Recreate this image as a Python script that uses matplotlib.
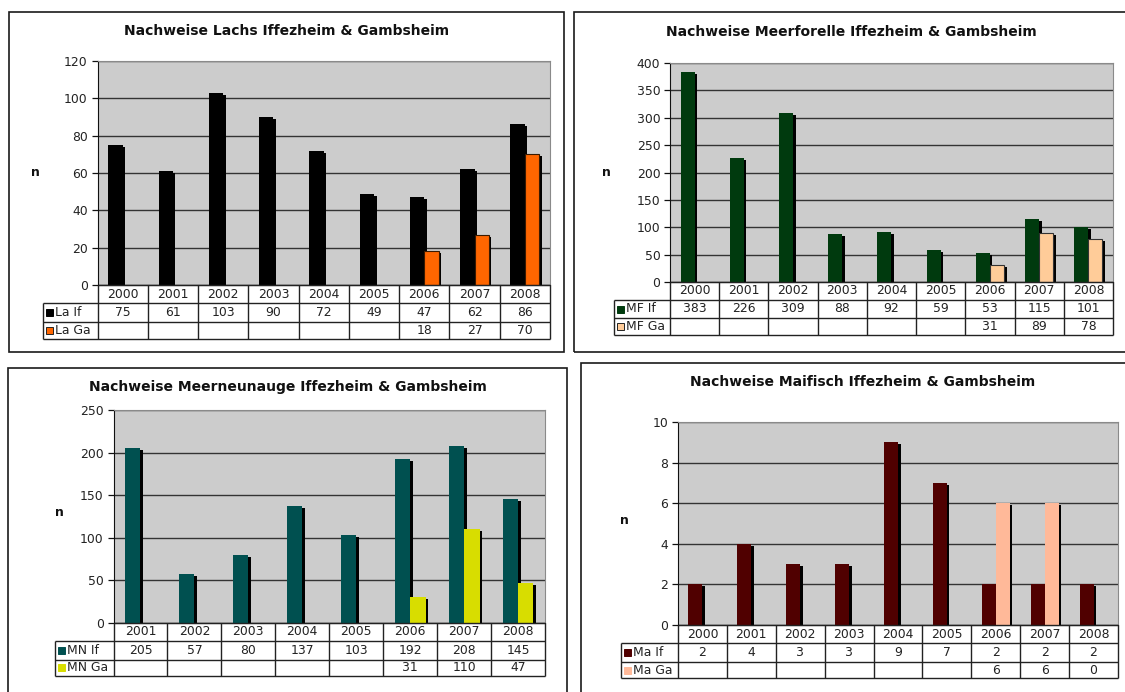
import matplotlib
matplotlib.use('Agg')
import matplotlib.pyplot as plt
import matplotlib.transforms as mtransforms
from matplotlib.patches import Rectangle
import numpy as np

# Daten: Nachweise an den Fischpässen Iffezheim (If) und Gambsheim (Ga)
years_la = ['2000', '2001', '2002', '2003', '2004', '2005', '2006', '2007', '2008']
la_if = [75, 61, 103, 90, 72, 49, 47, 62, 86]
la_ga = [None, None, None, None, None, None, 18, 27, 70]

years_mf = ['2000', '2001', '2002', '2003', '2004', '2005', '2006', '2007', '2008']
mf_if = [383, 226, 309, 88, 92, 59, 53, 115, 101]
mf_ga = [None, None, None, None, None, None, 31, 89, 78]

years_mn = ['2001', '2002', '2003', '2004', '2005', '2006', '2007', '2008']
mn_if = [205, 57, 80, 137, 103, 192, 208, 145]
mn_ga = [None, None, None, None, None, 31, 110, 47]

years_ma = ['2000', '2001', '2002', '2003', '2004', '2005', '2006', '2007', '2008']
ma_if = [2, 4, 3, 3, 9, 7, 2, 2, 2]
ma_ga = [None, None, None, None, None, None, 6, 6, 0]

W, H = 1125, 692
fig = plt.figure(figsize=(W / 100, H / 100), dpi=100)
plt.rcParams['font.family'] = ['DejaVu Sans']

TXT = '#222222'
BW = 0.2857  # Balkenbreite (Abstand 150 %)
FS = 8.9


def fx(x):
    return x / W


def fy(y):
    return 1 - y / H


def panel(box, plot, legx, title, title_xy, n_xy, years, s_if, s_ga,
          names, colors, ymax, ystep, edges):
    # Rahmen um das Diagramm
    x0, y0, x1, y1 = box
    fig.patches.append(Rectangle((fx(x0), fy(y1)), fx(x1 - x0), (y1 - y0) / H,
                                 transform=fig.transFigure, fill=False,
                                 ec='#1a1a1a', lw=1.2, zorder=0))
    fig.text(fx(title_xy[0]), fy(title_xy[1]), title, ha='center', va='center',
             fontsize=10, fontweight='bold', color='#111111')
    fig.text(fx(n_xy[0]), fy(n_xy[1]), 'n', ha='center', va='center',
             fontsize=9, fontweight='bold', color='#111111')

    pl, pt, pr, pb, rows = plot
    ax = fig.add_axes([fx(pl), fy(pb), fx(pr - pl), (pb - pt) / H])
    n = len(years)
    x = np.arange(n)
    vi = np.array(s_if, dtype=float)
    vg = np.array([np.nan if v is None else v for v in s_ga], dtype=float)

    ax.set_facecolor('#cccccc')
    ax.set_xlim(-0.5, n - 0.5)
    ax.set_ylim(0, ymax)
    ax.set_yticks(np.arange(0, ymax + ystep / 2, ystep))
    ax.yaxis.grid(True, color='#333333', lw=1.0)
    ax.set_axisbelow(True)
    ax.set_xticks([])
    ax.tick_params(axis='y', length=4, width=0.9, color='#111111',
                   labelsize=FS, labelcolor=TXT, pad=3)
    ax.spines['left'].set_color('#111111')
    ax.spines['bottom'].set_color('#111111')
    ax.spines['top'].set_color('#8a8a8a')
    ax.spines['right'].set_color('#8a8a8a')

    # Schatten leicht nach rechts unten versetzt
    shift = mtransforms.ScaledTranslation(2.5 / 100, -2 / 100, fig.dpi_scale_trans)
    for xs, vals in ((x - BW / 2, vi), (x + BW / 2, vg)):
        sh = ax.bar(xs, vals, BW, color='black', zorder=2)
        for p in sh:
            p.set_transform(ax.transData + shift)
    ax.bar(x - BW / 2, vi, BW, color=colors[0], zorder=3)
    ax.bar(x + BW / 2, vg, BW, color=colors[1], zorder=3,
           edgecolor=edges if edges else colors[1], lw=0.8 if edges else 0)

    # Datentabelle unter dem Diagramm
    r0, r1, r2, r3 = rows
    tb = fig.add_axes([fx(pl), fy(r3), fx(pr - pl), (r3 - r0) / H])
    tb.set_xlim(-0.5, n - 0.5)
    tb.set_ylim(r3, r0)
    tb.axis('off')
    catw = (pr - pl) / n
    lx = -0.5 - (pl - legx) / catw
    lc = '#222222'
    kw = dict(color=lc, lw=1.0, clip_on=False, solid_capstyle='butt')
    for i in range(n + 1):
        tb.plot([i - 0.5, i - 0.5], [r0, r3], **kw)
    tb.plot([-0.5, n - 0.5], [r0, r0], **kw)
    tb.plot([lx, n - 0.5], [r1, r1], **kw)
    tb.plot([lx, n - 0.5], [r2, r2], **kw)
    tb.plot([lx, n - 0.5], [r3, r3], **kw)
    tb.plot([lx, lx], [r1, r3], **kw)
    for i, yr in enumerate(years):
        tb.text(i, (r0 + r1) / 2, yr, ha='center', va='center', fontsize=FS, color=TXT)
        tb.text(i, (r1 + r2) / 2, str(s_if[i]), ha='center', va='center',
                fontsize=FS, color=TXT)
        if s_ga[i] is not None:
            tb.text(i, (r2 + r3) / 2, str(s_ga[i]), ha='center', va='center',
                    fontsize=FS, color=TXT)
    for k, (ya, yb) in enumerate(((r1, r2), (r2, r3))):
        ym = (ya + yb) / 2
        sq = 7 / catw
        tb.add_patch(Rectangle((lx + 3 / catw, ym - 3.5), sq, 7, fc=colors[k],
                               ec='#222222' if k == 1 and edges else colors[k],
                               lw=0.7, clip_on=False))
        tb.text(lx + 12 / catw, ym, names[k], ha='left', va='center',
                fontsize=FS, color=TXT, clip_on=False)
    return ax


panel((9, 12, 564, 352), (97.5, 61, 550, 285, (285, 303, 322, 339)), 43,
      'Nachweise Lachs Iffezheim & Gambsheim', (287, 31), (35, 173),
      years_la, la_if, la_ga, ('La If', 'La Ga'), ('#000000', '#ff6600'),
      120, 20, '#3a1a00')

panel((574, 12, 1140, 352), (670, 63, 1113, 282, (282, 300, 318, 335)), 614,
      'Nachweise Meerforelle Iffezheim & Gambsheim', (851, 32), (606, 173),
      years_mf, mf_if, mf_ga, ('MF If', 'MF Ga'), ('#003a0e', '#ffcc99'),
      400, 50, '#333333')

panel((8, 368, 567, 720), (113.5, 410, 545, 623, (623, 641, 660, 676)), 55,
      'Nachweise Meerneunauge Iffezheim & Gambsheim', (288, 387), (59, 513),
      years_mn, mn_if, mn_ga, ('MN If', 'MN Ga'), ('#005050', '#d8dd00'),
      250, 50, None)

panel((581, 363, 1150, 720), (678, 422, 1118, 625, (625, 643, 662, 678)), 621,
      'Nachweise Maifisch Iffezheim & Gambsheim', (863, 382), (624, 520),
      years_ma, ma_if, ma_ga, ('Ma If', 'Ma Ga'), ('#500000', '#ffb999'),
      10, 2, None)

fig.savefig('out.png', dpi=100)
